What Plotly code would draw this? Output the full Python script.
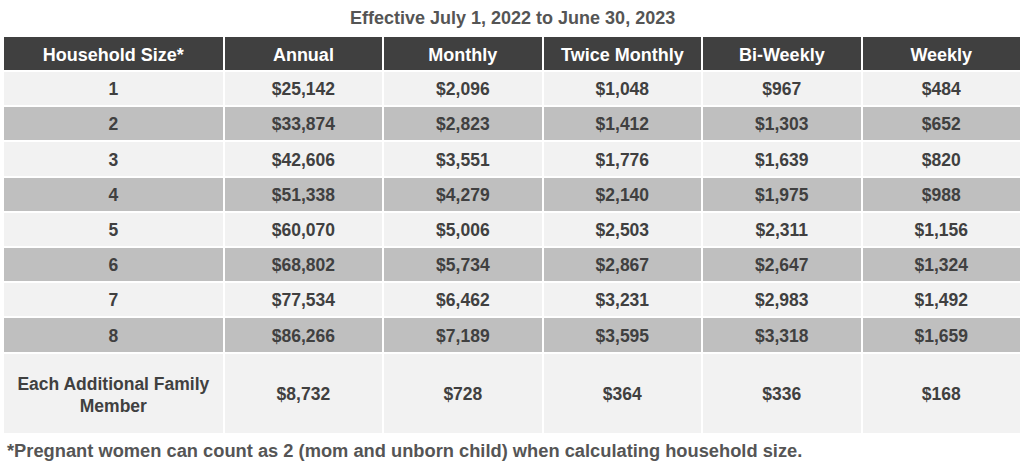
import plotly.graph_objects as go

title_text = "Effective July 1, 2022 to June 30, 2023"
footnote_text = "*Pregnant women can count as 2 (mom and unborn child) when calculating household size."
headers = ["Household Size*", "Annual", "Monthly", "Twice Monthly", "Bi-Weekly", "Weekly"]
household_size = ["1", "2", "3", "4", "5", "6", "7", "8"]
annual = ["$25,142", "$33,874", "$42,606", "$51,338", "$60,070", "$68,802", "$77,534", "$86,266"]
monthly = ["$2,096", "$2,823", "$3,551", "$4,279", "$5,006", "$5,734", "$6,462", "$7,189"]
twice_monthly = ["$1,048", "$1,412", "$1,776", "$2,140", "$2,503", "$2,867", "$3,231", "$3,595"]
bi_weekly = ["$967", "$1,303", "$1,639", "$1,975", "$2,311", "$2,647", "$2,983", "$3,318"]
weekly = ["$484", "$652", "$820", "$988", "$1,156", "$1,324", "$1,492", "$1,659"]
additional_label = ["Each Additional Family", "Member"]
additional_values = ["$8,732", "$728", "$364", "$336", "$168"]

W, H = 1024, 474
light, dark = "#f2f2f2", "#bfbfbf"
row_fill = [light if i % 2 == 0 else dark for i in range(len(household_size))]
text_col = "#404040"
colw = [220, 159, 159, 159, 159, 159]
x0, x1 = 3 / W, 1021 / W
FAM = "Arial, Liberation Sans"
cell_font = dict(family=FAM, size=17.5, color=text_col, weight="bold")
head_font = dict(family=FAM, size=18, color="white", weight="bold")
clear = "rgba(0,0,0,0)"
no_header = dict(values=[[""]] * 6, height=0, fill_color=clear, line=dict(width=0),
                 font=dict(size=1))
cols = [household_size, annual, monthly, twice_monthly, bi_weekly, weekly]
SHIFT = 3


def ydom(top, bottom):
    return [1 - bottom / H, 1 - top / H]


fig = go.Figure()
# background grid: header + 8 rows
fig.add_trace(go.Table(
    domain=dict(x=[x0, x1], y=ydom(36, 356)),
    columnwidth=colw,
    header=dict(values=[""] * len(headers), fill_color="#404040",
                line=dict(color="white", width=2), font=head_font, height=35),
    cells=dict(values=[[""] * len(c) for c in cols],
               fill_color=[row_fill] * 6, line=dict(color="white", width=2),
               font=cell_font, height=35.2),
))
# text of header + 8 rows
fig.add_trace(go.Table(
    domain=dict(x=[x0, x1], y=ydom(36 + SHIFT, 356 + SHIFT)),
    columnwidth=colw,
    header=dict(values=headers, fill_color=clear, line=dict(width=0),
                font=head_font, align="center", height=35),
    cells=dict(values=cols, fill_color=clear, line=dict(width=0),
               font=cell_font, align="center", height=35.2),
))
# background of last row
fig.add_trace(go.Table(
    domain=dict(x=[x0, x1], y=ydom(353, 436)),
    columnwidth=colw, header=no_header,
    cells=dict(values=[[""]] * 6, fill_color=light, line=dict(color="white", width=2),
               font=cell_font, align="center", height=81),
))
# two-line label, one line per overlay
for i, line_text in enumerate(additional_label):
    top = 369 + 22 * i
    fig.add_trace(go.Table(
        domain=dict(x=[x0, x1], y=ydom(top, 436)),
        columnwidth=colw, header=no_header,
        cells=dict(values=[[line_text]] + [[""]] * 5, fill_color=clear,
                   line=dict(width=0), font=cell_font, align="center", height=30),
    ))
# values of last row
fig.add_trace(go.Table(
    domain=dict(x=[x0, x1], y=ydom(379, 436)),
    columnwidth=colw, header=no_header,
    cells=dict(values=[[""]] + [[v] for v in additional_values], fill_color=clear,
               line=dict(width=0), font=cell_font, align="center", height=40),
))
fig.add_annotation(text=title_text, x=0.5, y=1 - 18 / H, xref="paper", yref="paper",
                   showarrow=False, xanchor="center", yanchor="middle",
                   font=dict(family=FAM, size=18, color="#555555", weight="bold"))
fig.add_annotation(text=footnote_text, x=5 / W, y=1 - 450 / H, xref="paper", yref="paper",
                   showarrow=False, xanchor="left", yanchor="middle",
                   font=dict(family=FAM, size=18.3, color="#555555", weight="bold"))
fig.update_layout(width=W, height=H, margin=dict(l=0, r=0, t=0, b=0),
                  paper_bgcolor="white", plot_bgcolor="white")
fig.write_html("out.html", config=dict(displayModeBar=False),
               post_script="document.body.style.margin='0';document.body.style.overflow='hidden';")
